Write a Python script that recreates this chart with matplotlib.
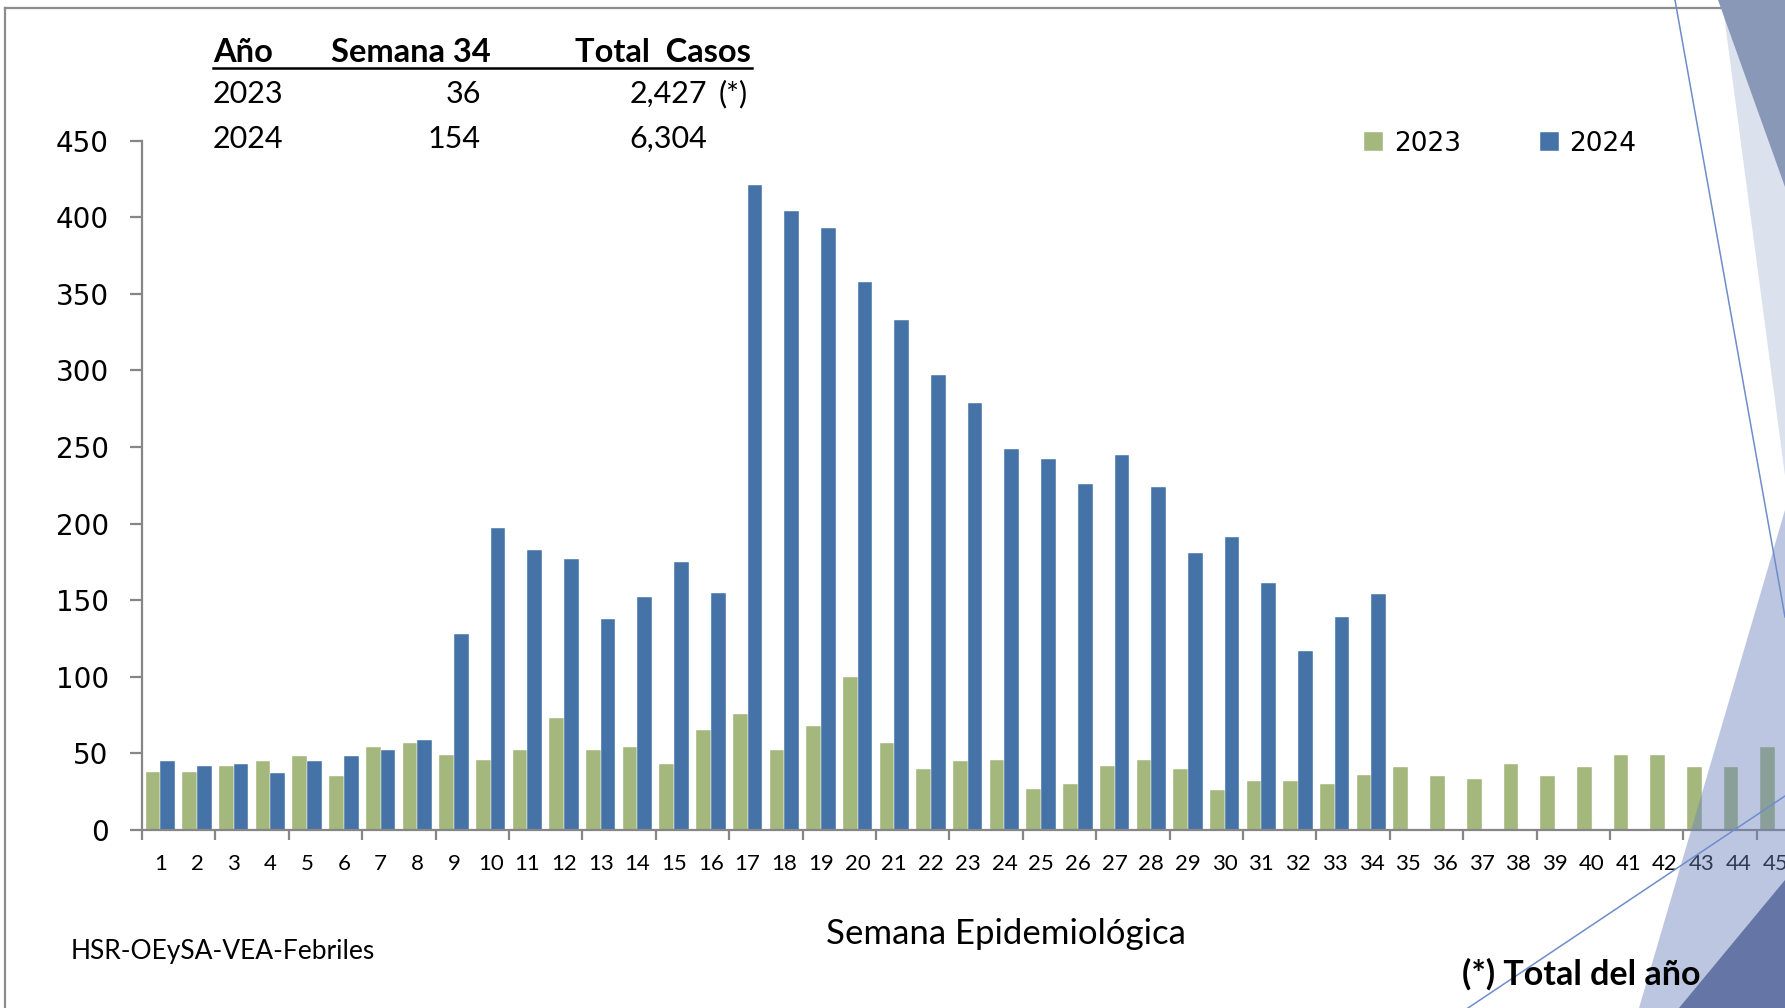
import matplotlib
matplotlib.use('Agg')
import matplotlib.pyplot as plt
from matplotlib.patches import Polygon
from matplotlib.lines import Line2D
import numpy as np

# datos
semanas = list(range(1, 46))
casos_2023 = [38, 38, 42, 45, 48, 35, 54, 57, 49, 46,
              52, 73, 52, 54, 43, 65, 76, 52, 68, 100,
              57, 40, 45, 46, 27, 30, 42, 46, 40, 26,
              32, 32, 30, 36, 41, 35, 33, 43, 35, 41,
              49, 49, 41, 41, 54]
casos_2024 = [45, 42, 43, 37, 45, 48, 52, 59, 128, 197,
              183, 177, 138, 152, 175, 155, 421, 404, 393, 358,
              333, 297, 279, 249, 242, 226, 245, 224, 181, 191,
              161, 117, 139, 154]

tabla_anios = ['2023', '2024']
tabla_semana = ['36', '154']
tabla_total = ['2,427', '6,304']
tabla_nota = ['(*)', '']

VERDE = '#A4B77C'
AZUL = '#4573A7'
GRIS = '#868686'
CALIBRI = 'Lato'

W, H = 1785, 1008


def fx(px):
    return px / W


def fy(py):
    return 1 - py / H


fig = plt.figure(figsize=(W / 100, H / 100), dpi=100)

ax = fig.add_axes([fx(142), fy(830), fx(1785) - fx(142), fy(140.6) - fy(830)])
x23 = np.arange(1, len(casos_2023) + 1)
x24 = np.arange(1, len(casos_2024) + 1)
ax.bar(x23 - 0.2, casos_2023, width=0.4, color=VERDE, edgecolor='white', linewidth=0.3, label='2023')
ax.bar(x24 + 0.2, casos_2024, width=0.4, color=AZUL, edgecolor='white', linewidth=0.3, label='2024')

ax.set_xlim(0.5, 0.5 + (1785 - 142) / 36.7)
ax.set_ylim(0, 450)
ax.set_yticks(range(0, 451, 50))
for s in ['top', 'right']:
    ax.spines[s].set_visible(False)
for s in ['left', 'bottom']:
    ax.spines[s].set_color(GRIS)
    ax.spines[s].set_linewidth(1.6)

ax.set_xticks(semanas)
ax.set_xticklabels([str(s) for s in semanas], fontfamily=CALIBRI, fontsize=16)
ax.set_xticks(np.arange(0.5, 46, 2), minor=True)
ax.tick_params(axis='x', which='major', length=0, pad=17)
ax.tick_params(axis='x', which='minor', length=7, width=1.6, color=GRIS)
ax.tick_params(axis='y', length=9, width=1.6, color=GRIS, pad=15, labelsize=20)

ax.legend(loc='center left', bbox_to_anchor=(fx(1351), fy(144)), bbox_transform=fig.transFigure,
          ncol=2, frameon=False, handlelength=0.72, handleheight=0.72, handletextpad=0.4,
          columnspacing=3.0, borderpad=0, prop={'family': 'DejaVu Sans', 'size': 19})

# tabla de resumen
fig.text(fx(213), fy(52), 'Año', fontfamily=CALIBRI, fontweight='bold', fontsize=23.5, va='center')
fig.text(fx(491), fy(52), 'Semana 34', fontfamily=CALIBRI, fontweight='bold', fontsize=23.5, va='center', ha='right')
fig.text(fx(751), fy(52), 'Total  Casos', fontfamily=CALIBRI, fontweight='bold', fontsize=23.5, va='center', ha='right')
fig.add_artist(Line2D([fx(213), fx(752)], [fy(68), fy(68)], color='black', lw=1.8))
for i, fila_y in enumerate([94, 139]):
    fig.text(fx(213), fy(fila_y), tabla_anios[i], fontfamily=CALIBRI, fontsize=22, va='center')
    fig.text(fx(481), fy(fila_y), tabla_semana[i], fontfamily=CALIBRI, fontsize=22, va='center', ha='right')
    fig.text(fx(707), fy(fila_y), tabla_total[i], fontfamily=CALIBRI, fontsize=22, va='center', ha='right')
    fig.text(fx(719), fy(fila_y), tabla_nota[i], fontfamily=CALIBRI, fontsize=22, va='center')

fig.text(fx(1006), fy(934), 'Semana Epidemiológica', fontfamily=CALIBRI, fontsize=25, ha='center', va='center')
fig.text(fx(71), fy(951), 'HSR-OEySA-VEA-Febriles', fontfamily=CALIBRI, fontsize=19, va='center')
fig.text(fx(1462), fy(974), '(*) Total del año', fontfamily=CALIBRI, fontweight='bold', fontsize=24.5,
         va='center', zorder=6)

# marco y adornos de la diapositiva
fig.add_artist(Line2D([fx(5), fx(5)], [fy(1010), fy(7.7)], color='#8C8C8C', lw=1.6, zorder=2))
fig.add_artist(Line2D([fx(5), fx(1790)], [fy(7.7), fy(7.7)], color='#8C8C8C', lw=1.6, zorder=2))


def tri(puntos, **kw):
    fig.add_artist(Polygon([(fx(a), fy(b)) for a, b in puntos], closed=True,
                           transform=fig.transFigure, lw=0, **kw))


tri([(1722, 0), (1785, 0), (1785, 476)], color='#DCE1EE', zorder=3)
tri([(1718, 0), (1785, 0), (1785, 187)], color='#8A98B8', zorder=3)
tri([(1639, 1008), (1785, 510), (1785, 1008)], color='#6C82BC', alpha=0.45, zorder=3)
tri([(1679, 1008), (1785, 880), (1785, 1008)], color='#6575A5', zorder=3)
fig.add_artist(Line2D([fx(1675), fx(1785)], [fy(0), fy(617)], color='#6F8CCB', lw=1.1, zorder=4))
fig.add_artist(Line2D([fx(1468), fx(1785)], [fy(1008), fy(796)], color='#6F8CCB', lw=1.1, zorder=4))

fig.savefig('out.png', dpi=100)
